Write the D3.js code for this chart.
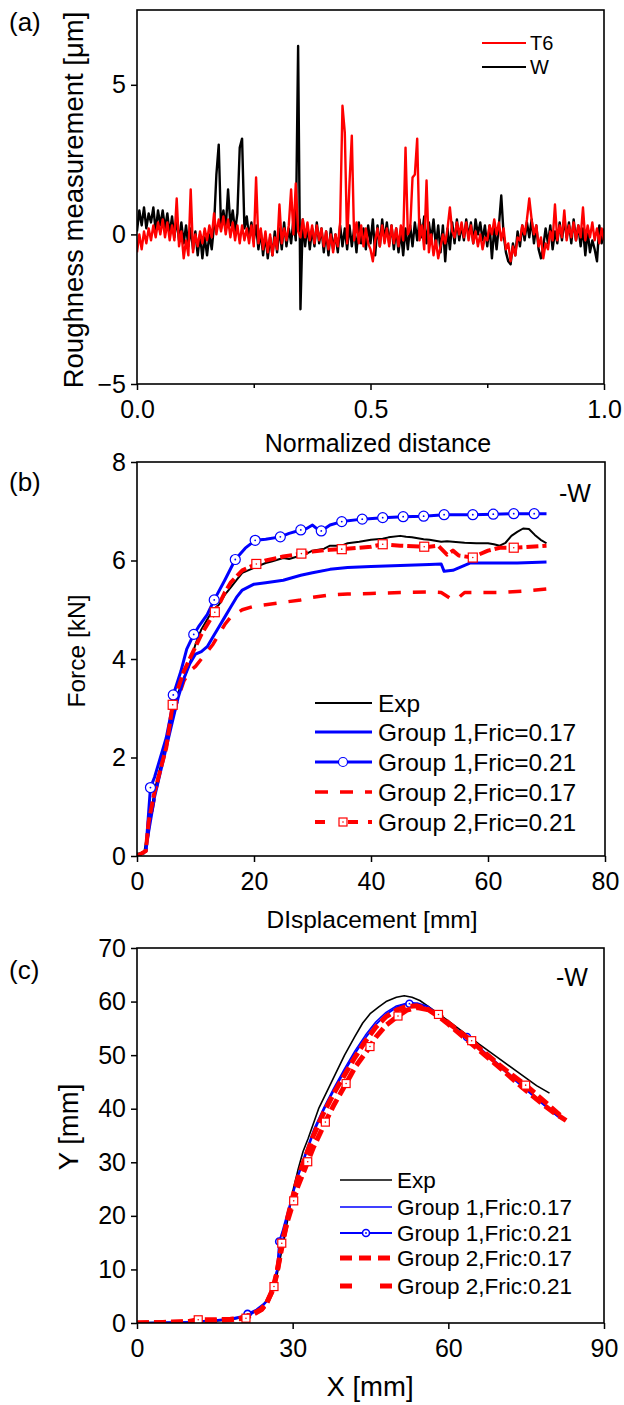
<!DOCTYPE html>
<html><head><meta charset="utf-8">
<script src="https://cdn.jsdelivr.net/npm/d3@7"></script>
<style>
body{margin:0;background:#fff}
text{font-family:"Liberation Sans",Arial,sans-serif;fill:#000}
</style>
</head><body><svg id="chart" width="624" height="1405"></svg>
<script>
// ---------- Panel (a): roughness ----------
const distance = d3.range(201).map(i => i / 200);
const roughW = [
0.1,0.8,0.3,0.9,0.2,0.7,0.4,0.9,0.1,0.8,
0.3,0.8,0.2,0.7,0.0,0.6,-0.1,0.5,-0.2,0.4,
-0.3,0.3,-0.4,0.2,-0.5,0.1,-0.7,0.0,-0.8,-0.1,
-0.7,0.0,-0.5,0.3,2.0,3.0,0.2,0.8,0.2,1.5,
0.3,0.8,0.1,0.7,2.9,3.2,0.2,0.6,-0.1,0.4,
-0.2,0.3,-0.5,0.1,-0.7,0.0,-0.8,-0.1,-0.7,0.1,
-0.6,0.2,-0.5,0.4,-0.4,0.2,-0.3,0.5,-0.2,6.3,
-2.5,0.5,-0.4,0.3,-0.5,0.2,-0.4,0.4,-0.3,0.2,
-0.6,0.1,-0.7,0.2,-0.5,0.0,-0.6,0.3,-0.4,0.2,
-0.5,0.3,-0.4,0.2,-0.6,0.4,-0.3,0.2,-0.5,0.3,
-0.3,0.5,-0.7,0.3,-0.4,0.5,-0.2,0.4,-0.3,0.3,
-0.5,0.2,-0.6,0.1,-0.7,0.2,-0.5,0.3,-0.4,0.4,
-0.2,0.5,-0.1,0.6,-0.3,0.4,-0.2,0.5,-0.4,0.3,
-0.6,0.3,-0.9,0.2,-0.5,0.4,-0.3,0.5,-0.2,0.3,
-0.2,0.5,-0.1,0.4,-0.3,0.5,0.0,0.4,-0.2,0.3,
-0.4,0.3,-0.8,0.2,-0.5,0.3,1.3,0.0,-0.6,-0.9,
-1.0,-0.3,-0.7,0.1,-0.4,0.3,-0.2,0.4,-0.1,0.5,
-0.3,0.3,-0.5,-0.8,-0.4,0.2,-0.3,0.3,-0.5,0.1,
-0.3,0.4,-0.2,0.5,-0.1,0.4,-0.3,0.5,-0.2,0.3,
-0.4,0.2,-0.7,0.1,-0.6,-0.2,-0.5,-0.9,0.3,-0.3,0.2];
const roughT6 = [
-0.6,0.0,-0.5,0.1,-0.3,0.2,-0.2,0.3,-0.1,0.4,
0.0,0.5,-0.1,0.4,-0.2,0.3,-0.2,1.2,-0.4,0.1,
-0.8,-0.2,-0.7,1.5,-0.6,0.0,-0.4,0.1,-0.3,0.2,
-0.2,0.3,-0.1,0.7,0.0,0.5,0.1,0.6,0.0,0.5,
-0.1,0.4,-0.2,0.3,-0.3,0.3,-0.2,0.2,-0.3,0.3,
-0.4,1.9,-0.3,0.2,-0.5,0.1,-0.6,0.0,-0.7,-0.1,
-0.5,1.0,-0.3,0.2,-0.2,0.3,1.5,0.0,1.7,0.1,
-0.1,0.5,-0.1,0.4,-0.2,0.3,-0.3,0.3,-0.2,0.2,
-0.4,0.1,-0.5,0.0,-0.6,0.0,-0.4,0.4,4.3,3.4,
-0.3,1.7,3.3,-0.2,0.4,-0.3,0.3,-0.4,0.2,-0.3,
-0.5,-0.9,-0.2,0.2,-0.4,0.3,-0.3,0.2,-0.4,0.3,
-0.3,0.2,-0.4,0.3,-0.2,2.9,0.0,0.2,1.9,2.0,
3.2,-0.2,0.3,-0.5,1.8,-0.6,0.0,-0.7,-0.2,-0.8,
-0.4,0.0,-0.3,0.2,0.9,0.1,-0.1,0.4,0.0,0.4,
-0.1,0.4,-0.2,0.3,-0.3,0.1,-0.4,0.0,-0.5,-0.1,
-0.2,0.3,0.0,0.5,0.0,0.4,-0.2,0.2,-0.5,-0.3,
-0.9,-0.4,-0.7,-0.1,-0.2,0.3,0.0,0.5,1.2,0.5,
0.0,0.3,-0.4,-0.1,-0.8,-0.3,-0.5,0.1,-0.2,1.0,
-0.2,0.3,-0.1,0.8,-0.2,0.3,-0.1,0.4,-0.2,0.3,
-0.1,0.9,-0.2,0.3,-0.1,0.4,-0.2,0.2,-0.3,0.2,-0.2];
const aXTicks = [0, 0.5, 1.0], aXMinor = [0.25, 0.75], aYTicks = [-5, 0, 5];

// ---------- Panel (b): force vs displacement ----------
const bExpX = [0,1.2,2,3,4,5,6,7,8,9,10,11,12,13,14,15,16,17,18,19,20,21,22,23,25,26,28,29,30,32,33,35,36,38,40,42,43,45,46,47,49,50,52,53,55,56,58,60,61,62,63,64,65,66,67,68,69,70];
const bExpY = [0.05,0.05,0.6,1.3,1.8,2.3,2.8,3.3,3.6,3.9,4.3,4.6,4.8,5.0,5.1,5.3,5.45,5.6,5.75,5.8,5.85,5.9,5.95,5.98,6.05,6.03,6.1,6.14,6.2,6.24,6.3,6.3,6.35,6.38,6.42,6.44,6.47,6.5,6.48,6.47,6.43,6.42,6.38,6.39,6.37,6.36,6.35,6.35,6.33,6.3,6.36,6.5,6.58,6.65,6.64,6.52,6.42,6.35];
const bG1f17X = [0,1.5,2,3,4,5,6,7,8,9,10,11,12,13,14,15,16,17,18,20,22,25,28,30,33,36,40,45,50,52,52.5,54,55,57,60,65,70];
const bG1f17Y = [0,0.1,0.5,1.2,1.7,2.2,2.7,3.2,3.6,3.9,4.1,4.15,4.25,4.45,4.65,4.85,5.05,5.25,5.4,5.52,5.55,5.6,5.7,5.75,5.82,5.86,5.88,5.9,5.92,5.93,5.78,5.8,5.85,5.95,5.95,5.95,5.97];
const bG1f21X = [0,1.5,2,2.3,3,5,6,6.2,7.5,8.5,9.7,10.5,12,13.2,15,16.8,18.5,20.2,22,24.5,26,28,29,30,31,31.5,33,35,38.5,42,45.5,49,52.5,55,57.4,60.9,64.4,67.9,70];
const bG1f21Y = [0,0.1,0.9,1.39,1.6,2.4,3.0,3.27,3.75,4.2,4.5,4.65,4.9,5.2,5.6,6.02,6.25,6.41,6.43,6.48,6.55,6.62,6.65,6.72,6.62,6.6,6.72,6.79,6.84,6.87,6.89,6.9,6.93,6.93,6.93,6.94,6.95,6.95,6.95];
const bG1f21MarkX = [2.3,6.2,9.7,13.2,16.8,20.2,24.5,28,31.5,35,38.5,42,45.5,49,52.5,57.4,60.9,64.4,67.9];
const bG1f21MarkY = [1.39,3.27,4.5,5.2,6.02,6.41,6.48,6.62,6.6,6.79,6.84,6.87,6.89,6.9,6.93,6.93,6.94,6.95,6.95];
const bG2f17X = [0,1.5,2,3,4,5,6,7,8,9,10,11,12,13,14,15,16,18,20,22,25,28,30,33,36,40,45,50,52,54,55,56,58,62,66,70];
const bG2f17Y = [0,0.1,0.6,1.2,1.8,2.3,2.8,3.2,3.55,3.75,3.85,4.0,4.15,4.3,4.5,4.7,4.85,5.0,5.07,5.1,5.15,5.2,5.25,5.3,5.32,5.33,5.35,5.36,5.35,5.2,5.25,5.35,5.35,5.35,5.38,5.42];
const bG2f21X = [0,1.5,2,3,5,6.1,7,8,9,10,11,13.3,14,15,16,18,20.4,22,25,28.1,30,33,35,40,42,45,49.1,50,51.5,53,54,55,57.4,58,60,62,64.4,70];
const bG2f21Y = [0,0.1,0.7,1.3,2.2,3.07,3.4,3.75,4.0,4.25,4.5,4.95,5.1,5.35,5.55,5.8,5.93,6.0,6.08,6.14,6.18,6.22,6.23,6.28,6.33,6.3,6.28,6.28,6.3,6.12,6.2,6.1,6.06,6.1,6.2,6.26,6.26,6.3];
const bG2f21MarkX = [6.1,13.3,20.4,28.1,35,42,49.1,57.4,64.4];
const bG2f21MarkY = [3.07,4.95,5.93,6.14,6.23,6.33,6.28,6.06,6.26];
const bXTicks = [0,20,40,60,80], bYTicks = [0,2,4,6,8];

// ---------- Panel (c): Y vs X profile ----------
const cExpX = [0,5,10,15,18,20,22,24,25,26,27,28,29,30,31,32,33,35,37.5,40,42,43.5,45,46.6,48,50,51.5,53,54.5,56,58,60,63,66,70,74,77,79.5];
const cExpY = [0.1,0.1,0.15,0.35,0.6,1.0,1.8,3.0,4.3,6.0,9.0,14,19,24.5,28.5,32,34.5,40,45,50,53.5,56,57.8,59,60,60.8,61.1,60.8,60.2,59.2,57.8,56.4,54.2,52,49.2,46.4,44.3,42.9];
const cG1f17X = [0,5,10,15,18,20,22,24,25,26,27,28,29,30,31,32,34,36,38,40,42,44,46,48,50,52,53,55,57,60,63,66,70,74,78,81.5];
const cG1f17Y = [0,0.1,0.2,0.4,0.6,1.0,1.6,2.8,4.0,6.0,10,15,20,24,27.5,30.5,36,40.2,44,47.5,50.8,53.7,56.2,58,59.2,59.7,59.8,59.3,58,56,53.6,51,47.7,44.3,41,38.2];
const cG1f21X = [0,5,10,15,18,20,21.3,23,25,26,27,27.4,28,29,30,31,32,34,36,38,40,42,44,46,48,50,52,54,56,58,60,63.6,66,70,74,78,81];
const cG1f21Y = [0,0.1,0.2,0.5,0.8,1.2,1.7,2.5,4.0,6.0,10,15.2,17,20.5,24,27.3,30,35.5,39.8,43.6,47,50.3,53.2,55.7,57.6,58.9,59.6,59.7,59.1,57.6,55.9,53.4,51.4,48,44.5,41.2,38.7];
const cG1f21MarkX = [21.3,27.4,52.5,63.6];
const cG1f21MarkY = [1.7,15.2,59.6,53.4];
const cG2f17X = [0,5,10,15,18,20,22,24,25,26,27,28,29,30,31,32,34,36,38,40,42,44,46,48,50,52,54,56,58,60,63,66,70,74,78,80,82.7];
const cG2f17Y = [0,0.1,0.2,0.4,0.6,0.9,1.5,2.6,3.8,5.8,9.5,14.5,19.5,23.5,27,29.8,35,39.3,43,46.3,49.6,52.6,55.2,57.2,58.4,59.1,59.2,58.6,57.3,55.8,53.3,50.9,47.6,44.2,41,39.5,37.8];
const cG2f21X = [0,5,10,11.8,15,18,21,24,25,26.4,27,27.9,29,30.2,31,32.9,34,36.3,38,40.3,42,44.9,46,48,50.3,52,54,56,58.1,60,64.5,66,70,74.9,78,81.5];
const cG2f21Y = [0,0.1,0.3,0.6,0.6,0.7,0.9,2.5,3.7,6.8,9.5,14.9,19,22.8,25.5,30.1,32.8,37.5,40.8,44.7,47.7,51.6,53.3,55.6,57.3,58.4,58.9,58.5,57.6,56,52.7,51.3,48,44.4,41.8,38.8];
const cG2f21MarkX = [11.8,21,26.4,27.9,30.2,32.9,36.3,40.3,44.9,50.3,58.1,64.5,74.9];
const cG2f21MarkY = [0.6,0.9,6.8,14.9,22.8,30.1,37.5,44.7,51.6,57.3,57.6,52.7,44.4];
const cXTicks = [0,30,60,90], cYTicks = [0,10,20,30,40,50,60,70];

const legendB = ["Exp","Group 1,Fric=0.17","Group 1,Fric=0.21","Group 2,Fric=0.17","Group 2,Fric=0.21"];
const legendC = ["Exp","Group 1,Fric:0.17","Group 1,Fric:0.21","Group 2,Fric:0.17","Group 2,Fric:0.21"];

// ---------- drawing ----------
const svg = d3.select('#chart');
const RED = '#ff0000', BLUE = '#0000ff', BLACK = '#000000';

function zip(xs, ys){ return xs.map((v,i)=>[v, ys[i]]); }

function makePanel(p){
  const x = d3.scaleLinear().domain(p.xDomain).range([p.left, p.right]);
  const y = d3.scaleLinear().domain(p.yDomain).range([p.bottom, p.top]);
  const g = svg.append('g');
  const style = sel => {
    sel.select('.domain').remove();
    sel.selectAll('line').attr('stroke','#000').attr('stroke-width',1.5);
    sel.selectAll('text').attr('font-size', p.tickFont).attr('fill','#000')
      .attr('font-family','"Liberation Sans",Arial,sans-serif');
  };
  g.append('g').attr('transform',`translate(0,${p.bottom})`)
    .call(d3.axisBottom(x).tickValues(p.xTicks).tickFormat(p.xFmt).tickSize(6).tickPadding(10)).call(style);
  if (p.xMinor) g.append('g').attr('transform',`translate(0,${p.bottom})`)
    .call(d3.axisBottom(x).tickValues(p.xMinor).tickFormat('').tickSize(4)).call(style);
  g.append('g').attr('transform',`translate(${p.left},0)`)
    .call(d3.axisLeft(y).tickValues(p.yTicks).tickFormat(d3.format('d')).tickSize(6).tickPadding(5)).call(style);
  const id = 'clip' + p.name;
  svg.append('clipPath').attr('id', id).append('rect')
    .attr('x', p.left).attr('y', p.top).attr('width', p.right - p.left).attr('height', p.bottom - p.top);
  const plot = g.append('g').attr('clip-path', `url(#${id})`);
  g.append('rect').attr('x',p.left).attr('y',p.top).attr('width',p.right-p.left).attr('height',p.bottom-p.top)
    .attr('fill','none').attr('stroke','#000').attr('stroke-width',1.6);
  g.append('text').attr('x', p.xTitlePos[0]).attr('y', p.xTitlePos[1]).attr('text-anchor','middle')
    .attr('font-size', p.titleFont).text(p.xTitle);
  g.append('text').attr('transform', `translate(${p.yTitlePos[0]},${p.yTitlePos[1]}) rotate(-90)`)
    .attr('text-anchor','middle').attr('font-size', p.yTitleFont || p.titleFont).text(p.yTitle);
  g.append('text').attr('x', p.labelPos[0]).attr('y', p.labelPos[1]).attr('font-size', 26).text(p.label);
  return {x, y, plot, g};
}

function drawLine(P, pts, st){
  const line = d3.line().x(d=>P.x(d[0])).y(d=>P.y(d[1]));
  P.plot.append('path').datum(pts).attr('d', line).attr('fill','none')
    .attr('stroke', st.color).attr('stroke-width', st.width)
    .attr('stroke-dasharray', st.dash || null).attr('stroke-linejoin','round');
}
function drawCircles(P, pts, r, sw){
  const gg = P.plot.append('g');
  gg.selectAll('circle.m').data(pts).join('circle').attr('cx',d=>P.x(d[0])).attr('cy',d=>P.y(d[1]))
    .attr('r', r).attr('fill','#fff').attr('stroke', BLUE).attr('stroke-width', sw);
  gg.selectAll('circle.d').data(pts).join('circle').attr('cx',d=>P.x(d[0])).attr('cy',d=>P.y(d[1]))
    .attr('r', 0.9).attr('fill', BLUE);
}
function drawSquares(P, pts, s, sw){
  const gg = P.plot.append('g');
  gg.selectAll('rect').data(pts).join('rect').attr('x',d=>P.x(d[0])-s/2).attr('y',d=>P.y(d[1])-s/2)
    .attr('width', s).attr('height', s).attr('fill','#fff').attr('stroke', RED).attr('stroke-width', sw);
  gg.selectAll('circle').data(pts).join('circle').attr('cx',d=>P.x(d[0])).attr('cy',d=>P.y(d[1]))
    .attr('r', 0.8).attr('fill', RED);
}

// Panel (a)
const A = makePanel({name:'a', left:137, right:604, top:10, bottom:384, xDomain:[0,1], yDomain:[-5,7.5],
  xTicks:aXTicks, xMinor:aXMinor, yTicks:aYTicks, xFmt:d3.format('.1f'), tickFont:25, titleFont:25, yTitleFont:27.5,
  xTitle:'Normalized distance', xTitlePos:[378,452], yTitle:'Roughness measurement [\u03bcm]', yTitlePos:[83,200],
  label:'(a)', labelPos:[9,31]});
drawLine(A, zip(distance, roughW), {color:BLACK, width:2.4});
drawLine(A, zip(distance, roughT6), {color:RED, width:2.4});
const legA = [{t:'T6', c:RED, y:43},{t:'W', c:BLACK, y:67}];
legA.forEach(l => {
  A.g.append('line').attr('x1',482).attr('x2',526).attr('y1',l.y).attr('y2',l.y).attr('stroke',l.c).attr('stroke-width',2);
  A.g.append('text').attr('x',530).attr('y',l.y+7).attr('font-size',20).text(l.t);
});

// Panel (b)
const B = makePanel({name:'b', left:137, right:605, top:462, bottom:856, xDomain:[0,80], yDomain:[0,8],
  xTicks:bXTicks, yTicks:bYTicks, xFmt:d3.format('d'), tickFont:25, titleFont:24.5,
  xTitle:'DIsplacement [mm]', xTitlePos:[372,928], yTitle:'Force [kN]', yTitlePos:[85,651],
  label:'(b)', labelPos:[9,491]});
drawLine(B, zip(bG2f17X, bG2f17Y), {color:RED, width:3.5, dash:'13,12'});
drawLine(B, zip(bExpX, bExpY), {color:BLACK, width:2});
drawLine(B, zip(bG1f17X, bG1f17Y), {color:BLUE, width:3});
drawLine(B, zip(bG1f21X, bG1f21Y), {color:BLUE, width:3});
drawLine(B, zip(bG2f21X, bG2f21Y), {color:RED, width:4, dash:'12,4'});
drawCircles(B, zip(bG1f21MarkX, bG1f21MarkY), 5, 1.2);
drawSquares(B, zip(bG2f21MarkX, bG2f21MarkY), 9, 1.2);
B.g.append('text').attr('x',559).attr('y',502).attr('font-size',25).text('-W');
const legStylesB = [
  {c:BLACK, w:2}, {c:BLUE, w:3}, {c:BLUE, w:3, m:'circle'}, {c:RED, w:3.5, dash:'13,12'}, {c:RED, w:4, dash:'10,23,10', m:'square'}];
const legBy = [703,732,762,792,822];
legendB.forEach((t,i) => {
  const s = legStylesB[i];
  B.g.append('line').attr('x1',315).attr('x2',372).attr('y1',legBy[i]).attr('y2',legBy[i])
    .attr('stroke',s.c).attr('stroke-width',s.w).attr('stroke-dasharray',s.dash||null);
  if (s.m==='circle') { B.g.append('circle').attr('cx',343).attr('cy',legBy[i]).attr('r',4.5).attr('fill','#fff').attr('stroke',BLUE).attr('stroke-width',1.2); }
  if (s.m==='square') { B.g.append('rect').attr('x',339).attr('y',legBy[i]-4).attr('width',8).attr('height',8).attr('fill','#fff').attr('stroke',RED).attr('stroke-width',1.2);
    B.g.append('circle').attr('cx',343).attr('cy',legBy[i]).attr('r',0.8).attr('fill',RED); }
  B.g.append('text').attr('x',378).attr('y',legBy[i]+9).attr('font-size',24.5).text(t);
});

// Panel (c)
const C = makePanel({name:'c', left:137, right:604, top:948, bottom:1323, xDomain:[0,90], yDomain:[0,70],
  xTicks:cXTicks, yTicks:cYTicks, xFmt:d3.format('d'), tickFont:25, titleFont:27.5,
  xTitle:'X [mm]', xTitlePos:[370,1396], yTitle:'Y [mm]', yTitlePos:[78,1127],
  label:'(c)', labelPos:[9,979]});
drawLine(C, zip(cExpX, cExpY), {color:BLACK, width:1.6});
drawLine(C, zip(cG1f17X, cG1f17Y), {color:BLUE, width:1.5});
drawLine(C, zip(cG1f21X, cG1f21Y), {color:BLUE, width:2});
drawCircles(C, zip(cG1f21MarkX, cG1f21MarkY), 3.5, 1.6);
drawLine(C, zip(cG2f17X, cG2f17Y), {color:RED, width:5, dash:'12,5'});
drawLine(C, zip(cG2f21X, cG2f21Y), {color:RED, width:5, dash:'12,5'});
drawSquares(C, zip(cG2f21MarkX, cG2f21MarkY), 8, 1.2);
C.g.append('text').attr('x',556).attr('y',986).attr('font-size',25).text('-W');
const legStylesC = [
  {c:BLACK, w:1.6}, {c:BLUE, w:1.5}, {c:BLUE, w:2, m:'circle'}, {c:RED, w:5, dash:'12,7'}, {c:RED, w:5, dash:'12,28,12'}];
const legCy = [1180,1207,1233,1258,1286];
legendC.forEach((t,i) => {
  const s = legStylesC[i];
  C.g.append('line').attr('x1',340).attr('x2',392).attr('y1',legCy[i]).attr('y2',legCy[i])
    .attr('stroke',s.c).attr('stroke-width',s.w).attr('stroke-dasharray',s.dash||null);
  if (s.m==='circle') { C.g.append('circle').attr('cx',366).attr('cy',legCy[i]).attr('r',3.5).attr('fill','#fff').attr('stroke',BLUE).attr('stroke-width',1.6);
    C.g.append('circle').attr('cx',366).attr('cy',legCy[i]).attr('r',0.9).attr('fill',BLUE); }
  if (s.m==='square') { C.g.append('rect').attr('x',362).attr('y',legCy[i]-4).attr('width',8).attr('height',8).attr('fill','#fff').attr('stroke',RED).attr('stroke-width',1.2); }
  C.g.append('text').attr('x',397).attr('y',legCy[i]+8).attr('font-size',22.5).text(t);
});
</script>
</body></html>
